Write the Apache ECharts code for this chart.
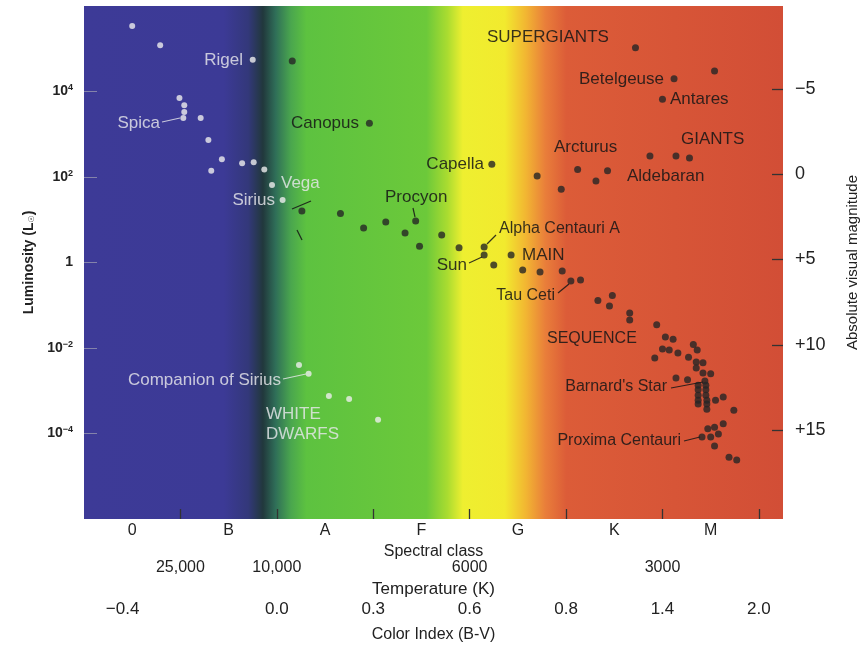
<!DOCTYPE html>
<html>
<head>
<meta charset="utf-8">
<script src="https://cdn.jsdelivr.net/npm/echarts@6/dist/echarts.min.js"></script>
<style>
html,body{margin:0;padding:0;background:#fff;}
#chart{width:861px;height:653px;}
</style>
</head>
<body>
<div id="chart"></div>
<script>
// ---------- DATA ----------
// x = position along the spectral-class axis (class boundaries at 1..7), y = luminosity (L_sun)
const spectralClasses = ['0', 'B', 'A', 'F', 'G', 'K', 'M'];
const spectralLabelPos = [0.5, 1.5, 2.5, 3.5, 4.5, 5.5, 6.5];
const classBoundaries = [1, 2, 3, 4, 5, 6, 7];
const tempPos = [1, 2, 4, 6];
const tempLabels = ['25,000', '10,000', '6000', '3000'];
const colorIndexPos = [0.4, 2, 3, 4, 5, 6, 7];
const colorIndexLabels = ['\u22120.4', '0.0', '0.3', '0.6', '0.8', '1.4', '2.0'];
const lumTicks = [1e-4, 1e-2, 1, 1e2, 1e4];
const magTicks = [-5, 0, 5, 10, 15];
const magLabels = ['\u22125', '0', '+5', '+10', '+15'];

const hotStars = [
  [0.50, 3.4e5], [0.79, 1.2e5], [1.75, 5.5e4], [0.99, 7.0e3], [1.04, 4.8e3],
  [1.04, 3.3e3], [1.03, 2.4e3], [1.21, 2.4e3], [1.29, 7.3e2], [1.43, 2.6e2],
  [1.64, 2.1e2], [1.76, 2.2e2], [1.87, 1.5e2], [1.32, 1.4e2], [1.95, 65],
  [2.06, 29]
];
const whiteDwarfs = [
  [2.23, 4.0e-3], [2.33, 2.5e-3], [2.54, 7.5e-4], [2.75, 6.4e-4], [3.05, 2.1e-4]
];
const giants = [
  [2.16, 5.2e4], [2.96, 1.8e3], [4.23, 2.0e2], [4.70, 1.05e2], [4.95, 52],
  [5.12, 1.5e2], [5.43, 1.4e2], [5.31, 81], [5.72, 1.05e5], [6.12, 2.0e4],
  [6.54, 3.0e4], [6.00, 6.6e3], [5.87, 3.1e2], [6.14, 3.1e2], [6.28, 2.8e2]
];
const mainSequence = [
  [2.26, 16], [2.66, 14], [2.90, 6.4], [3.13, 8.9], [3.44, 9.3], [3.33, 4.9],
  [3.71, 4.4], [3.48, 2.4], [3.89, 2.2], [4.15, 2.3], [4.15, 1.5], [4.25, 0.87],
  [4.43, 1.5], [4.55, 0.67], [4.73, 0.60], [4.96, 0.63], [5.05, 0.37], [5.15, 0.39],
  [5.33, 0.13], [5.48, 0.17], [5.45, 0.096], [5.66, 0.066], [5.66, 0.045], [5.94, 0.035]
];
const redDwarfs = [
  [6.03, 0.018], [6.11, 0.016], [6.00, 9.5e-3], [6.07, 9.0e-3], [6.16, 7.6e-3],
  [5.92, 5.8e-3], [6.32, 0.012], [6.36, 9.0e-3], [6.27, 6.1e-3], [6.35, 4.7e-3],
  [6.42, 4.5e-3], [6.35, 3.4e-3], [6.42, 2.6e-3], [6.50, 2.5e-3], [6.14, 2.0e-3],
  [6.26, 1.8e-3], [6.44, 1.7e-3], [6.45, 1.35e-3], [6.45, 1.05e-3], [6.45, 7.9e-4],
  [6.46, 6.0e-4], [6.46, 4.9e-4], [6.46, 3.7e-4], [6.37, 1.35e-3], [6.37, 1.05e-3],
  [6.37, 7.9e-4], [6.37, 6.0e-4], [6.37, 4.9e-4], [6.55, 6.0e-4], [6.63, 7.1e-4],
  [6.74, 3.5e-4],
  [6.63, 1.7e-4], [6.54, 1.4e-4], [6.47, 1.3e-4], [6.58, 9.8e-5], [6.50, 8.3e-5],
  [6.41, 8.3e-5], [6.54, 5.1e-5], [6.69, 2.8e-5], [6.77, 2.4e-5]
];

// ---------- STYLE ----------
const FONT = '"Liberation Sans", Arial, Helvetica, sans-serif';
const LIGHT = 'rgba(232,232,236,0.82)';
const DARK = 'rgba(22,22,22,0.86)';
const sup = {
  b: {fontSize: 14, fontWeight: 'bold', color: '#222', fontFamily: FONT},
  s: {fontSize: 9, fontWeight: 'bold', color: '#222', fontFamily: FONT, verticalAlign: 'top', padding: [0, 0, 7, 0]}
};

function txt(text, x, y, color, align, size) {
  return {
    type: 'text', x: x, y: y, z: 100, silent: true,
    style: {text: text, fill: color, font: (size || 17) + 'px ' + FONT,
      align: align || 'left', verticalAlign: 'middle', textAlign: align || 'left', textVerticalAlign: 'middle'}
  };
}
function ln(x1, y1, x2, y2, color) {
  return {type: 'line', z: 100, silent: true, shape: {x1: x1, y1: y1, x2: x2, y2: y2},
    style: {stroke: color, lineWidth: 1.2}};
}

const bg = new echarts.graphic.LinearGradient(0, 0, 1, 0, [
  {offset: 0.000, color: '#3d3a97'},
  {offset: 0.200, color: '#3c3a96'},
  {offset: 0.235, color: '#33387a'},
  {offset: 0.256, color: '#21383c'},
  {offset: 0.274, color: '#2f6e58'},
  {offset: 0.296, color: '#4aa64e'},
  {offset: 0.318, color: '#5dc240'},
  {offset: 0.490, color: '#6cc93a'},
  {offset: 0.520, color: '#aadc30'},
  {offset: 0.542, color: '#eeef30'},
  {offset: 0.602, color: '#f2ea2e'},
  {offset: 0.632, color: '#f2b632'},
  {offset: 0.660, color: '#e97e3a'},
  {offset: 0.690, color: '#dc5c38'},
  {offset: 1.000, color: '#d24e36'}
]);

const chart = echarts.init(document.getElementById('chart'), null, {renderer: 'canvas'});

const option = {
  animation: false,
  backgroundColor: '#ffffff',
  grid: {left: 84, top: 6, width: 699, height: 513, show: true, backgroundColor: bg, borderWidth: 0,
    containLabel: false, outerBoundsMode: 'none'},
  xAxis: [
    {
      type: 'value', position: 'bottom', min: 0, max: 7.25,
      axisLine: {show: false, onZero: false}, splitLine: {show: false},
      axisTick: {show: true, inside: true, length: 10, customValues: classBoundaries, lineStyle: {color: '#333', width: 1.3}},
      axisLabel: {customValues: spectralLabelPos, margin: 4, fontSize: 16, fontFamily: FONT, color: '#222',
        formatter: v => spectralClasses[spectralLabelPos.indexOf(v)]},
      name: 'Spectral class', nameLocation: 'middle', nameGap: 20,
      nameTextStyle: {fontSize: 16, fontFamily: FONT, color: '#222'}
    },
    {
      type: 'value', position: 'bottom', offset: 39, min: 0, max: 7.25,
      axisLine: {show: false, onZero: false}, splitLine: {show: false}, axisTick: {show: false},
      axisLabel: {customValues: tempPos, margin: 2, fontSize: 16, fontFamily: FONT, color: '#222',
        formatter: v => tempLabels[tempPos.indexOf(v)]},
      name: 'Temperature (K)', nameLocation: 'middle', nameGap: 21,
      nameTextStyle: {fontSize: 17, fontFamily: FONT, color: '#222'}
    },
    {
      type: 'value', position: 'bottom', offset: 80, min: 0, max: 7.25,
      axisLine: {show: false, onZero: false}, splitLine: {show: false}, axisTick: {show: false},
      axisLabel: {customValues: colorIndexPos, margin: 2, fontSize: 17, fontFamily: FONT, color: '#222',
        formatter: v => colorIndexLabels[colorIndexPos.indexOf(v)]},
      name: 'Color Index (B-V)', nameLocation: 'middle', nameGap: 28,
      nameTextStyle: {fontSize: 16, fontFamily: FONT, color: '#222'}
    }
  ],
  yAxis: [
    {
      type: 'log', logBase: 10, min: 1e-6, max: 1e6, position: 'left',
      axisLine: {show: false, onZero: false}, splitLine: {show: false},
      axisTick: {show: true, inside: true, length: 13, customValues: lumTicks, lineStyle: {color: 'rgba(150,150,175,0.8)', width: 1}},
      axisLabel: {customValues: lumTicks, margin: 11, rich: sup,
        formatter: v => {
          const e = Math.round(Math.log10(v));
          if (e === 0) return '{b|1}';
          return '{b|10}{s|' + (e < 0 ? '\u2212' : '') + Math.abs(e) + '}';
        }},
      name: '{a|Luminosity (L}{c|\u2609}{a|)}', nameLocation: 'middle', nameGap: 39, nameRotate: 90,
      nameTextStyle: {rich: {
        a: {fontSize: 14, fontWeight: 'bold', fontFamily: FONT, color: '#222'},
        c: {fontSize: 8, fontWeight: 'bold', fontFamily: 'DejaVu Sans', color: '#222', verticalAlign: 'bottom', padding: [6, 0, 0, 0]}
      }}
    },
    {
      type: 'value', position: 'right', inverse: true, min: -9.87, max: 20.22,
      axisLine: {show: false, onZero: false}, splitLine: {show: false},
      axisTick: {show: true, inside: true, length: 11, customValues: magTicks, lineStyle: {color: '#333', width: 1.3}},
      axisLabel: {customValues: magTicks, margin: 12, fontSize: 18, fontFamily: FONT, color: '#222',
        formatter: v => magLabels[magTicks.indexOf(v)]},
      name: 'Absolute visual magnitude', nameLocation: 'middle', nameGap: 62, nameRotate: 90,
      nameTextStyle: {fontSize: 15, fontFamily: FONT, color: '#222'}
    }
  ],
  series: [
    {type: 'scatter', name: 'hot', data: hotStars, symbolSize: 6, itemStyle: {color: '#eeeeee'}, z: 5},
    {type: 'scatter', name: 'white dwarfs', data: whiteDwarfs, symbolSize: 6, itemStyle: {color: '#eeeeee'}, z: 5},
    {type: 'scatter', name: 'giants', data: giants, symbolSize: 7, itemStyle: {color: '#262626'}, z: 5},
    {type: 'scatter', name: 'main sequence', data: mainSequence, symbolSize: 7, itemStyle: {color: '#262626'}, z: 5},
    {type: 'scatter', name: 'red dwarfs', data: redDwarfs, symbolSize: 7, itemStyle: {color: '#262626'}, z: 5},
    {type: 'scatter', name: 'mag', data: [], yAxisIndex: 1}
  ],
  graphic: [
    txt('Rigel', 243, 60, LIGHT, 'right'),
    txt('Spica', 160, 123, LIGHT, 'right'),
    ln(162, 122, 180, 118, LIGHT),
    txt('Sirius', 275, 200, LIGHT, 'right'),
    txt('Vega', 281, 183, LIGHT, 'left'),
    txt('Companion of Sirius', 281, 380, LIGHT, 'right'),
    ln(283, 379, 306, 374, LIGHT),
    txt('WHITE', 266, 414, LIGHT, 'left'),
    txt('DWARFS', 266, 434, LIGHT, 'left'),
    ln(292, 209, 311, 201, DARK),
    ln(297, 230, 302, 240, DARK),
    txt('Canopus', 359, 123, DARK, 'right'),
    txt('Capella', 484, 164, DARK, 'right'),
    txt('Procyon', 385, 197, DARK, 'left'),
    ln(413, 208, 415, 217, DARK),
    txt('SUPERGIANTS', 487, 37, DARK, 'left'),
    txt('Betelgeuse', 664, 79, DARK, 'right'),
    txt('Antares', 670, 99, DARK, 'left'),
    txt('Arcturus', 554, 147, DARK, 'left'),
    txt('GIANTS', 681, 139, DARK, 'left'),
    txt('Aldebaran', 627, 176, DARK, 'left'),
    txt('Alpha Centauri A', 499, 229, DARK, 'left', 16),
    ln(487, 244, 496, 235, DARK),
    txt('Sun', 467, 265, DARK, 'right'),
    ln(469, 263, 482, 257, DARK),
    txt('MAIN', 522, 255, DARK, 'left'),
    txt('Tau Ceti', 555, 296, DARK, 'right', 16),
    ln(558, 293, 569, 284, DARK),
    txt('SEQUENCE', 547, 339, DARK, 'left', 16),
    txt("Barnard's Star", 667, 387, DARK, 'right', 16),
    ln(671, 388, 703, 382, DARK),
    txt('Proxima Centauri', 681, 441, DARK, 'right', 16),
    ln(684, 441, 700, 437, DARK)
  ]
};
chart.setOption(option);
</script>
</body>
</html>
